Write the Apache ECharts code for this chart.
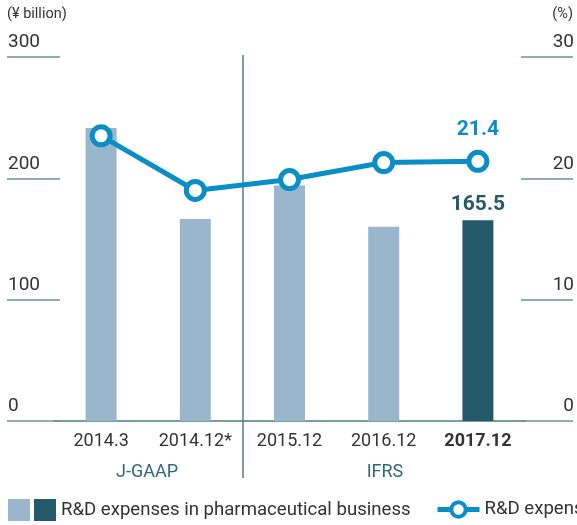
<!DOCTYPE html>
<html>
<head>
<meta charset="utf-8">
<script src="https://cdn.jsdelivr.net/npm/echarts@6/dist/echarts.min.js"></script>
<style>
  html, body { margin: 0; padding: 0; background: #fff; }
  #chart { width: 577px; height: 525px; }
</style>
</head>
<body>
<div id="chart"></div>
<script>
// data
const categories = ["2014.3", "2014.12*", "2015.12", "2016.12", "2017.12"];
const rdExpenses = [241.5, 166.5, 194, 160, 165.5]; // ¥ billion
const rdRatio = [23.5, 19.0, 19.9, 21.3, 21.4]; // %
const leftTicks = [0, 100, 200, 300];
const rightTicks = [0, 10, 20, 30];
const groups = ["J-GAAP", "IFRS"];

const LIGHT = "#99b6cc";
const DARK = "#24596a";
const BLUE = "#0a8ec6";
const TEXT = "#333333";
const GRID = "#6f919e";
const FONT = "Roboto, 'Liberation Sans', sans-serif";

const last = categories.length - 1;
// split bars into prior years (light) and current year (dark)
const priorBars = rdExpenses.map((v, i) => (i === last ? "-" : v));
const currentBars = rdExpenses.map((v, i) => (i === last ? v : "-"));

const chart = echarts.init(document.getElementById("chart"));

const options = {
  animation: false,
  textStyle: { fontFamily: FONT },
  grid: { left: 54, right: 51, top: 57, bottom: 104, containLabel: false },
  legend: [
    {
      left: 8,
      bottom: 4,
      padding: 0,
      icon: "rect",
      itemWidth: 22,
      itemHeight: 22,
      itemGap: 4,
      data: ["prior", "R&D expenses in pharmaceutical business"],
      formatter: (name) => (name === "prior" ? "" : name),
      textStyle: { fontSize: 18.6, color: TEXT, fontFamily: FONT },
      selectedMode: false,
    },
    {
      left: 435,
      bottom: 6,
      padding: 0,
      itemWidth: 42,
      itemHeight: 18,
      data: ["R&D expenses/revenue ratio"],
      lineStyle: { width: 5 },
      itemStyle: { borderWidth: 4 },
      textStyle: { fontSize: 18.6, color: TEXT, fontFamily: FONT },
      selectedMode: false,
    },
  ],
  xAxis: {
    type: "category",
    data: categories,
    axisLine: { lineStyle: { color: "#4b7b8c", width: 1.5 } },
    axisTick: { show: false },
    axisLabel: {
      interval: 0,
      margin: 11,
      fontSize: 18,
      color: TEXT,
      formatter: (v, i) => (i === last ? "{b|" + v + "}" : v),
      rich: { b: { fontWeight: "bold", fontSize: 18, color: TEXT } },
    },
  },
  yAxis: [
    {
      type: "value",
      min: leftTicks[0],
      max: leftTicks[leftTicks.length - 1],
      interval: 100,
      offset: -6,
      axisLine: { show: false },
      splitLine: { show: false },
      axisTick: { show: true, length: 53, lineStyle: { color: GRID, width: 1.5 } },
      axisLabel: {
        margin: 52,
        align: "left",
        verticalAlign: "bottom",
        padding: [0, 0, 5, 0],
        fontSize: 19,
        color: TEXT,
      },
    },
    {
      type: "value",
      min: rightTicks[0],
      max: rightTicks[rightTicks.length - 1],
      interval: 10,
      offset: -4,
      position: "right",
      axisLine: { show: false },
      splitLine: { show: false },
      axisTick: { show: true, length: 52, lineStyle: { color: GRID, width: 1.5 } },
      axisLabel: {
        margin: 53,
        align: "right",
        verticalAlign: "bottom",
        padding: [0, 0, 5, 0],
        fontSize: 19,
        color: TEXT,
      },
    },
  ],
  graphic: [
    { type: "text", left: 7, top: 7, style: { text: "(¥ billion)", fontSize: 14.5, fill: TEXT, fontFamily: FONT } },
    { type: "text", right: 4, top: 7, style: { text: "(%)", fontSize: 14.5, fill: TEXT, fontFamily: FONT } },
    { type: "line", shape: { x1: 243, y1: 55, x2: 243, y2: 478 }, style: { stroke: "#2b5b6b", lineWidth: 1.2 } },
    { type: "text", x: 147, y: 472, style: { text: groups[0], fontSize: 18, fill: "#2d6a80", align: "center", verticalAlign: "middle", fontFamily: FONT } },
    { type: "text", x: 385, y: 472, style: { text: groups[1], fontSize: 18, fill: "#2d6a80", align: "center", verticalAlign: "middle", fontFamily: FONT } },
  ],
  series: [
    {
      name: "prior",
      type: "bar",
      stack: "rd",
      barWidth: 31,
      data: priorBars,
      itemStyle: { color: LIGHT },
    },
    {
      name: "R&D expenses in pharmaceutical business",
      type: "bar",
      stack: "rd",
      barWidth: 31,
      data: currentBars,
      itemStyle: { color: DARK },
      label: {
        show: true,
        position: "top",
        distance: 5,
        fontSize: 21,
        fontWeight: "bold",
        color: DARK,
        formatter: (p) => p.value,
      },
    },
    {
      name: "R&D expenses/revenue ratio",
      type: "line",
      yAxisIndex: 1,
      data: rdRatio,
      symbol: "circle",
      symbolSize: 18,
      lineStyle: { color: BLUE, width: 5 },
      itemStyle: { color: "#fff", borderColor: BLUE, borderWidth: 5 },
      label: {
        show: true,
        position: "top",
        distance: 10,
        fontSize: 21,
        fontWeight: "bold",
        color: BLUE,
        formatter: (p) => (p.dataIndex === last ? p.value.toFixed(1) : ""),
      },
      z: 5,
    },
  ],
};

chart.setOption(options);
</script>
</body>
</html>
